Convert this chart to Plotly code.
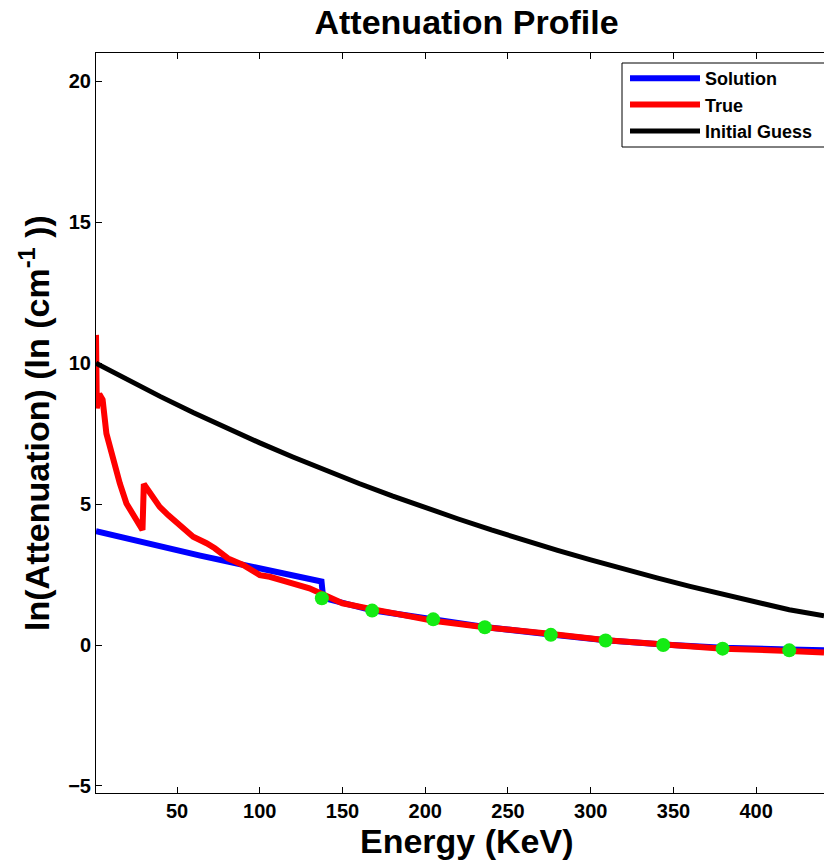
import plotly.graph_objects as go

# Initial Guess (black)
guess_E = [1, 20, 40, 60, 80, 100, 120, 140, 160, 180, 200, 220, 240, 260, 280, 300, 320, 340, 360, 380, 400, 420, 441]
guess_v = [10.0, 9.41, 8.81, 8.24, 7.70, 7.17, 6.67, 6.19, 5.73, 5.29, 4.87, 4.47, 4.08, 3.71, 3.36, 3.02, 2.69, 2.38, 2.08, 1.79, 1.51, 1.25, 1.04]

# True (red)
true_E = [1, 1.5, 3, 5, 7.3, 10.3, 13.3, 15.4, 19.4, 23.4, 26.4, 29.1, 29.9, 34.5, 39.5, 44.6, 50,
          59.7, 67.8, 72.8, 80.8, 89.9, 100, 106, 116, 124, 130, 138, 144, 150, 167, 185, 204.8,
          236, 255, 275, 309.6, 343.8, 380, 420, 441]
true_v = [11.0, 8.4, 8.9, 8.7, 7.5, 6.8, 6.2, 5.73, 5.02, 4.61, 4.32, 4.08, 5.71, 5.32, 4.9, 4.61, 4.32,
          3.84, 3.61, 3.43, 3.07, 2.84, 2.48, 2.42, 2.25, 2.13, 2.01, 1.8, 1.62, 1.48, 1.28, 1.06, 0.86,
          0.63, 0.53, 0.4, 0.17, 0.01, -0.13, -0.21, -0.27]

# Solution (blue)
sol_E = [1, 64, 137.3, 138.3, 167.9, 204.8, 236, 275.9, 309, 343.8, 379.7, 420, 441]
sol_v = [4.04, 3.17, 2.25, 1.67, 1.23, 0.92, 0.64, 0.37, 0.17, 0.02, -0.1, -0.16, -0.19]

# Sample points (green)
pts_E = [137.5, 167.9, 204.8, 236, 275.9, 309, 343.8, 379.7, 420]
pts_v = [1.66, 1.22, 0.91, 0.63, 0.36, 0.16, 0.0, -0.13, -0.19]

x_ticks = [50, 100, 150, 200, 250, 300, 350, 400]
y_ticks = [-5, 0, 5, 10, 15, 20]

FONT = "Liberation Sans, Arial, Helvetica, sans-serif"
W, H = 824, 862
L, T, B = 96, 53, 69
PW, PH = W - L, H - T - B


def px_to_paper(px, py):
    return (px - L) / PW, (H - B - py) / PH


fig = go.Figure()
fig.add_trace(go.Scatter(x=sol_E, y=sol_v, mode="lines", name="Solution",
                         line=dict(color="#0000ff", width=6)))
fig.add_trace(go.Scatter(x=true_E, y=true_v, mode="lines", name="True",
                         line=dict(color="#ff0000", width=6)))
fig.add_trace(go.Scatter(x=guess_E, y=guess_v, mode="lines", name="Initial Guess",
                         line=dict(color="#000000", width=5)))
fig.add_trace(go.Scatter(x=pts_E, y=pts_v, mode="markers", showlegend=False,
                         marker=dict(color="#14eb14", size=14, line=dict(width=0))))

lx, ly = px_to_paper(625, 60)
bx0, by0 = px_to_paper(622, 147)
bx1, by1 = px_to_paper(840, 63)
tx, ty = px_to_paper(467, 841)

fig.update_layout(
    width=W, height=H,
    margin=dict(l=L, r=0, t=T, b=B),
    paper_bgcolor="white", plot_bgcolor="white",
    font=dict(family=FONT, color="black"),
    title=dict(text="Attenuation Profile", x=0.509, xref="paper", xanchor="center",
               y=1 - 22 / H, yref="container", yanchor="middle",
               font=dict(size=34, weight="bold", family=FONT, color="black")),
    showlegend=True,
    legend=dict(x=lx, y=ly, xanchor="left", yanchor="top",
                bgcolor="rgba(0,0,0,0)", borderwidth=0,
                font=dict(size=18, weight="bold", family=FONT, color="black"),
                itemwidth=70, tracegroupgap=0),
    shapes=[dict(type="rect", xref="paper", yref="paper", x0=bx0, y0=by0, x1=bx1, y1=by1,
                 line=dict(color="black", width=1), fillcolor="white", layer="above")],
    annotations=[dict(text="Energy (KeV)", xref="paper", yref="paper", x=tx, y=ty,
                      xanchor="center", yanchor="middle", showarrow=False,
                      font=dict(size=34, weight="bold", family=FONT, color="black"))],
)
fig.update_xaxes(range=[1, 441], tickvals=x_ticks, ticks="inside", ticklen=6, tickcolor="black",
                 showline=True, linecolor="black", linewidth=1, mirror="ticks",
                 showgrid=False, zeroline=False,
                 tickfont=dict(size=20, weight="bold", family=FONT, color="black"))
fig.update_yaxes(range=[-5.25, 21.0], tickvals=y_ticks, ticks="inside", ticklen=6, tickcolor="black",
                 showline=True, linecolor="black", linewidth=1, mirror=False,
                 showgrid=False, zeroline=False,
                 tickfont=dict(size=20, weight="bold", family=FONT, color="black"),
                 title=dict(text="ln(Attenuation) (ln (cm<sup>-1</sup> ))", standoff=8,
                            font=dict(size=34, weight="bold", family=FONT, color="black")))

fig.write_html("out.html")
